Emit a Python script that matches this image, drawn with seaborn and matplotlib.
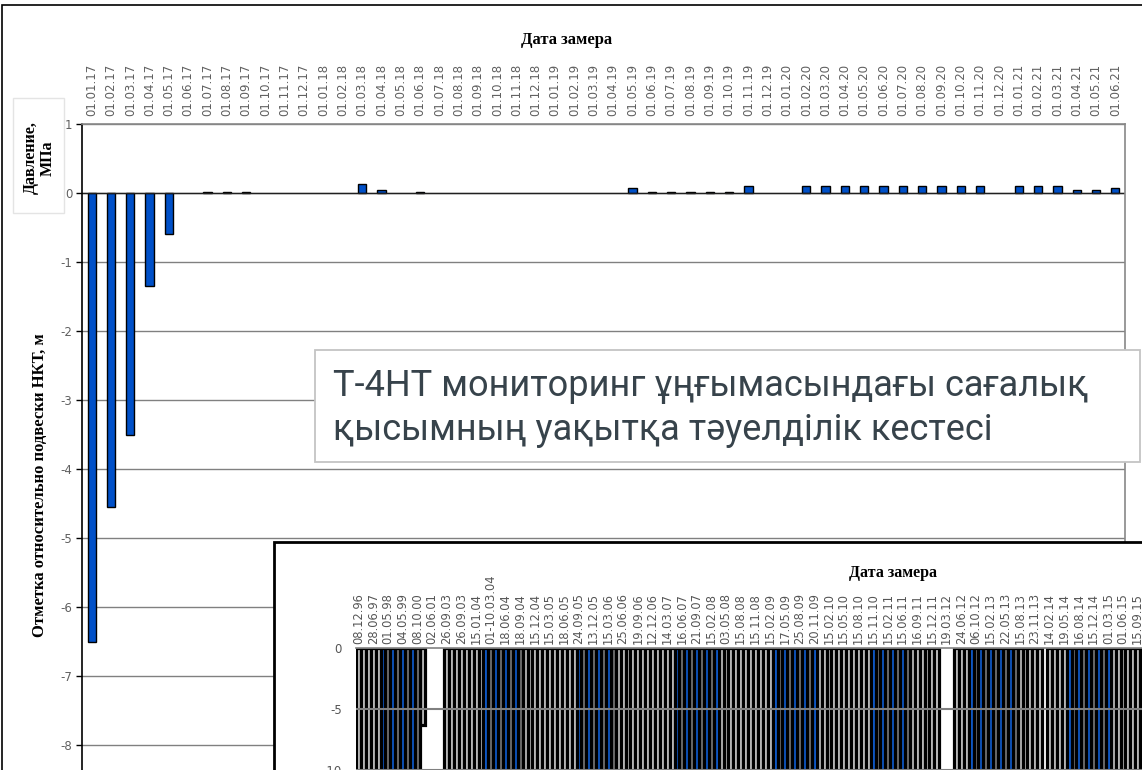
import numpy as np
import pandas as pd
import matplotlib
matplotlib.use('Agg')
import matplotlib.pyplot as plt
import seaborn as sns
from matplotlib.patches import Rectangle

# основной график: давление по месяцам
dates = ['01.01.17', '01.02.17', '01.03.17', '01.04.17', '01.05.17', '01.06.17',
         '01.07.17', '01.08.17', '01.09.17', '01.10.17', '01.11.17', '01.12.17',
         '01.01.18', '01.02.18', '01.03.18', '01.04.18', '01.05.18', '01.06.18',
         '01.07.18', '01.08.18', '01.09.18', '01.10.18', '01.11.18', '01.12.18',
         '01.01.19', '01.02.19', '01.03.19', '01.04.19', '01.05.19', '01.06.19',
         '01.07.19', '01.08.19', '01.09.19', '01.10.19', '01.11.19', '01.12.19',
         '01.01.20', '01.02.20', '01.03.20', '01.04.20', '01.05.20', '01.06.20',
         '01.07.20', '01.08.20', '01.09.20', '01.10.20', '01.11.20', '01.12.20',
         '01.01.21', '01.02.21', '01.03.21', '01.04.21', '01.05.21', '01.06.21']
pressure = [-6.5, -4.55, -3.5, -1.35, -0.6, None,
            0.01, 0.01, 0.01, None, None, None,
            None, None, 0.13, 0.05, None, 0.01,
            None, None, None, None, None, None,
            None, None, None, None, 0.07, 0.01,
            0.01, 0.01, 0.01, 0.01, 0.1, None,
            None, 0.1, 0.1, 0.1, 0.1, 0.1,
            0.1, 0.1, 0.1, 0.1, 0.1, None,
            0.1, 0.1, 0.1, 0.05, 0.05, 0.07]

# вставка: старый график замеров (видна только часть)
inset_labels = ['08.12.96', '28.06.97', '01.05.98', '04.05.99', '08.10.00', '02.06.01',
                '26.09.03', '26.09.03', '15.01.04', '01-10.03.04', '18.06.04', '18.09.04',
                '15.12.04', '15.03.05', '18.06.05', '24.09.05', '13.12.05', '15.03.06',
                '25.06.06', '19.09.06', '12.12.06', '14.03.07', '16.06.07', '21.09.07',
                '15.02.08', '03.05.08', '15.08.08', '15.11.08', '15.02.09', '17.05.09',
                '25.08.09', '20.11.09', '15.02.10', '15.05.10', '15.08.10', '15.11.10',
                '15.02.11', '15.06.11', '16.09.11', '15.12.11', '19.03.12', '24.06.12',
                '06.10.12', '15.02.13', '22.05.13', '15.08.13', '23.11.13', '14.02.14',
                '19.05.14', '16.08.14', '15.12.14', '01.03.15', '01.06.15', '15.09.15']
inset_depth = [-12, -12, -12, -12, -12, -12, -12, -12, -12, -12, -12, -12, -12, -6.3,
               None, None, None, None,
               -12, -12, -12, -12, -12, -12, -12, -12, -12, -12, -12, -12, -12, -12,
               -12, -12, -12, -12, -12, -12, -12, -12, -12, -12, -12, -12, -12, -12,
               -12, -12, -12, -12, -12, -12, -12, -12, -12, -12, -12, -12, -12, -12,
               -12, -12, -12, -12, -12, -12, -12, -12, -12, -12, -12, -12, -12, -12,
               -12, -12, -12, -12, -12, -12, -12, -12, -12, -12, -12, -12, -12, -12,
               -12, -12, -12, -12, -12, -12, -12, -12, -12, -12, -12, -12, -12, -12,
               -12, -12, -12, -12, -12, -12, -12, -12, -12, -12, -12, -12, -12, -12,
               -12, -12, -12,
               None, None, None,
               -12, -12, -12, -12, -12, -12, -12, -12, -12, -12, -12, -12, -12, -12,
               -12, -12, -12, -12,
               None,
               -12, -12, -12, -12, -12, -12, -12, -12, -12, -12, -12, -12, -12, -12,
               -12, -12, -12, -12, -12, -12, -12]
inset_kind = ('lllll' 'bdbdbdbd' 'lllllllllllll' 'bdbdbdbd' 'lllllllllll' 'bdbdbdbd'
              'llllllllllll' 'bdbdbdbdb' 'lllllllllll' 'bdbdbdbdb' 'lllllllllll'
              'bdbdbdbd' 'llllllllllll' 'bdbdbdbdbd' 'llllllllll' 'bdbdbdbdb' 'llllllll')

df = pd.DataFrame({'date': dates, 'p': pressure})
df_in = pd.DataFrame({'n': range(len(inset_depth)), 'h': inset_depth, 'kind': list(inset_kind)})

sns.set_theme(style='white')
plt.rcParams['axes.unicode_minus'] = False

W, H = 1142, 770
fx = lambda x: x / W
fy = lambda y: 1 - y / H

fig = plt.figure(figsize=(W / 100, H / 100), dpi=100)
serif = dict(family='Liberation Serif', weight='bold', color='black')

# внешняя рамка
fig.add_artist(Rectangle((fx(2), fy(900)), fx(1160), 895 / H, transform=fig.transFigure,
                         fill=False, ec='black', lw=1.2, zorder=0.5))

# ---- основной график
ax = fig.add_axes([fx(82), fy(814), (1125 - 82) / W, (814 - 124) / H])
sns.barplot(data=df, x='date', y='p', order=dates, color='#0050C8', saturation=1,
            width=0.43, edgecolor='black', linewidth=1, errorbar=None, ax=ax)
ax.set_ylim(-9, 1)
ax.set_yticks(range(-8, 2))
ax.set_yticklabels([str(v) for v in range(-8, 2)])
ax.yaxis.grid(True, color='#808080', lw=1)
ax.set_axisbelow(True)
ax.axhline(0, color='#202020', lw=1, zorder=1)
ax.xaxis.tick_top()
ax.tick_params(axis='x', length=0, rotation=90, labelsize=8.5, labelcolor='#606060', pad=6)
ax.tick_params(axis='y', left=True, length=4, width=1, color='black', labelsize=8.5,
               labelcolor='#606060', pad=3)
ax.set_xlabel('')
ax.set_ylabel('')
ax.spines['left'].set_color('black')
ax.spines['top'].set_color('#888888')
ax.spines['right'].set_color('#888888')
ax.spines['bottom'].set_visible(False)
for s in ['left', 'top', 'right']:
    ax.spines[s].set_linewidth(1.2)

fig.text(fx(567), fy(40), 'Дата замера', ha='center', va='center', fontsize=12, **serif)
fig.text(fx(40), fy(485), 'Отметка относительно подвески НКТ, м', rotation=90,
         ha='center', va='center', fontsize=12, **serif)
fig.add_artist(Rectangle((fx(13), fy(213)), 51 / W, 115 / H, transform=fig.transFigure,
                         fc='white', ec='#E4E4E4', lw=1))
fig.text(fx(39), fy(158), 'Давление,\nМПа', rotation=90, ha='center', va='center',
         fontsize=11.5, linespacing=1.05, multialignment='center', **serif)

# ---- текстовая плашка
fig.add_artist(Rectangle((fx(315), fy(462)), (1140 - 315) / W, 112 / H,
                         transform=fig.transFigure, fc='white', ec='#C4C4C4', lw=1.3, zorder=2))
fig.text(fx(333), fy(408), 'Т-4НТ мониторинг ұңғымасындағы сағалық\nқысымның уақытқа тәуелділік кестесі',
         ha='left', va='center', fontsize=26, family='Roboto', color='#37434B',
         linespacing=1.3, zorder=3)

# ---- вставка (обрезана краем рисунка, как на исходнике)
fig.add_artist(Rectangle((fx(274), fy(900)), fx(900), (900 - 542) / H,
                         transform=fig.transFigure, fc='white', ec='black', lw=2, zorder=1.5))
axi = fig.add_axes([fx(356), fy(648 + 15 * 12.2), (1150 - 356) / W, 15 * 12.2 / H], zorder=2)
sns.barplot(data=df_in, x='n', y='h', hue='kind', order=list(range(len(inset_depth))),
            palette={'l': '#C8C8C8', 'b': '#1060D8', 'd': '#707070'}, dodge=False,
            saturation=1, width=1.0, edgecolor='black', linewidth=2.3, errorbar=None,
            legend=False, ax=axi)
axi.set_ylim(-15, 0)
axi.set_yticks([0, -5, -10])
axi.set_yticklabels(['0', '-5', '-10'])
axi.axhline(-5, color='#808080', lw=1.5, zorder=5)
axi.axhline(-10, color='#808080', lw=1.5, zorder=5)
axi.xaxis.tick_top()
axi.set_xticks(range(0, 3 * len(inset_labels), 3))
axi.set_xticklabels(inset_labels)
axi.tick_params(axis='x', length=0, rotation=90, labelsize=8.3, labelcolor='#555555', pad=3)
axi.tick_params(axis='y', left=False, length=0, labelsize=8.5, labelcolor='#555555', pad=10)
axi.set_xlabel('')
axi.set_ylabel('')
axi.spines['top'].set_color('#888888')
axi.spines['left'].set_visible(False)
axi.spines['right'].set_visible(False)
axi.spines['bottom'].set_visible(False)
fig.text(fx(893), fy(573), 'Дата замера', ha='center', va='center', fontsize=11.5, **serif)

fig.savefig('out.png', dpi=100)
